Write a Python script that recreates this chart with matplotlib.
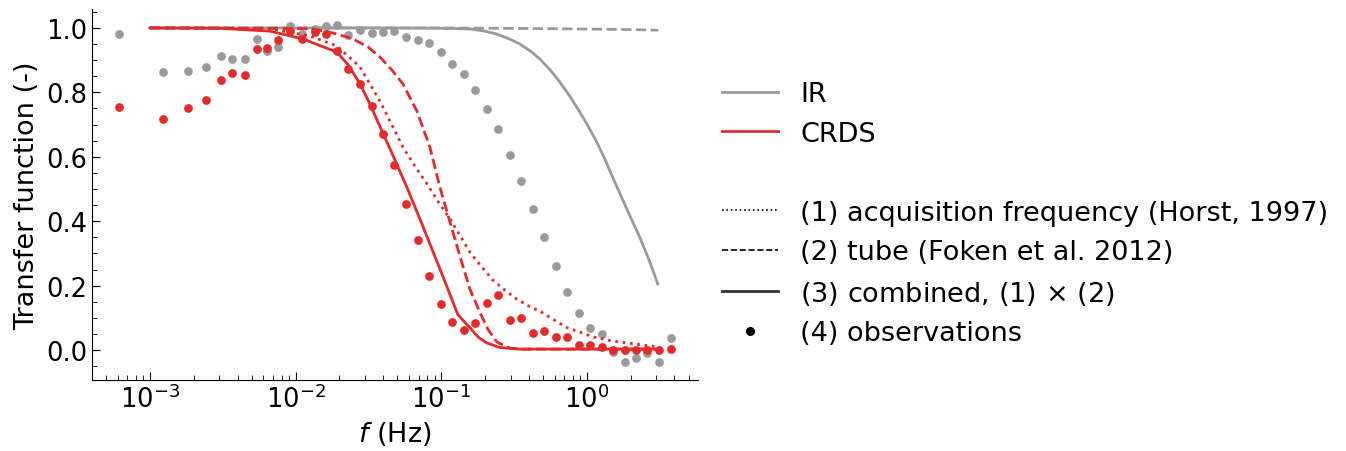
import numpy as np
import matplotlib
matplotlib.use("Agg")
import matplotlib.pyplot as plt
from matplotlib.lines import Line2D

plt.rcParams['font.family'] = ['DejaVu Sans']
plt.rcParams['font.size'] = 19.5

red = '#e32b2b'
grey = '#9a9a9a'

# theoretical curves, values
f_comb = [0.001, 0.003, 0.00667, 0.0112, 0.0192, 0.023, 0.0277, 0.0324, 0.036, 0.0456, 0.0578,
          0.0714, 0.0881, 0.1088, 0.130, 0.157, 0.18, 0.2056, 0.253, 0.347, 3.1]
crds_comb = [1.0, 0.999, 0.99, 0.966, 0.925, 0.885, 0.826, 0.764, 0.717, 0.614, 0.508,
             0.407, 0.304, 0.2, 0.11, 0.07, 0.04, 0.022, 0.008, 0.003, 0.003]

f_acq = [0.001, 0.00316, 0.00667, 0.0126, 0.0192, 0.0277, 0.0379, 0.0457, 0.0546, 0.0661, 0.0798,
         0.0955, 0.1148, 0.1349, 0.1574, 0.1905, 0.2265, 0.2754, 0.3311, 0.3981, 0.4786,
         0.5888, 0.7295, 1.122, 1.507, 3.02]
crds_acq = [1.0, 0.999, 0.997, 0.975, 0.944, 0.879, 0.773, 0.70, 0.63, 0.57, 0.516,
            0.46, 0.407, 0.355, 0.304, 0.257, 0.217, 0.185, 0.158, 0.137, 0.12,
            0.095, 0.07, 0.04, 0.028, 0.01]

f_tube = [0.001, 0.00631, 0.01315, 0.01778, 0.02477, 0.03162, 0.0379, 0.0457, 0.0546, 0.0681,
          0.0836, 0.0979, 0.1148, 0.1343, 0.1574, 0.1841, 0.2089, 0.241, 0.2958, 0.3467, 3.09]
crds_tube = [1.0, 0.999, 0.997, 0.985, 0.966, 0.94, 0.91, 0.87, 0.826, 0.742,
             0.63, 0.506, 0.398, 0.292, 0.189, 0.118, 0.065, 0.025, 0.006, 0.003, 0.003]

f_ir = [0.001, 0.05, 0.1, 0.157, 0.2, 0.241, 0.29, 0.347, 0.41, 0.475, 0.56, 0.653, 0.77,
        0.895, 1.03, 1.17, 1.33, 1.51, 1.73, 1.97, 2.26, 2.58, 2.82, 3.07]
ir_comb = [1.0, 1.0, 0.999, 0.997, 0.99, 0.981, 0.967, 0.95, 0.928, 0.904, 0.87, 0.832, 0.786,
           0.739, 0.692, 0.646, 0.593, 0.535, 0.475, 0.418, 0.36, 0.298, 0.252, 0.205]
f_ir_tube = [0.001, 0.1, 0.5, 2.0, 3.1]
ir_tube = [1.0, 1.0, 0.998, 0.995, 0.993]

# observations
f_obs = [0.00061, 0.00123, 0.00182, 0.00242, 0.00307, 0.00365, 0.00449, 0.00543, 0.00635, 0.00756,
         0.00914, 0.0110, 0.0136, 0.0162, 0.0192, 0.0229, 0.0277, 0.0334, 0.0398, 0.0473,
         0.0572, 0.0691, 0.0822, 0.0995, 0.118, 0.143, 0.170, 0.206, 0.245, 0.296,
         0.352, 0.426, 0.507, 0.613, 0.729, 0.881, 1.05, 1.27, 1.51, 1.82,
         2.17, 2.58, 3.12, 3.77]
crds_obs = [0.755, 0.717, 0.752, 0.776, 0.839, 0.86, 0.854, 0.935, 0.938, 0.963,
            0.99, 0.966, 0.988, 0.981, 0.929, 0.873, 0.826, 0.758, 0.671, 0.575,
            0.453, 0.342, 0.23, 0.143, 0.087, 0.062, 0.084, 0.146, 0.171, 0.093,
            0.099, 0.053, 0.059, 0.04, 0.04, 0.016, 0.016, 0.009, 0.0, 0.0,
            0.0, 0.0, 0.0, 0.003]
ir_obs = [0.981, 0.863, 0.866, 0.879, 0.913, 0.904, 0.904, 0.966, 0.929, 0.941,
          1.006, 0.981, 0.997, 1.006, 1.009, 0.978, 0.994, 0.984, 0.988, 0.991,
          0.972, 0.963, 0.953, 0.925, 0.888, 0.857, 0.807, 0.748, 0.686, 0.606,
          0.525, 0.438, 0.351, 0.261, 0.18, 0.115, 0.068, 0.05, -0.006, -0.037,
          -0.025, -0.009, -0.037, 0.037]

fig = plt.figure(figsize=(13.46, 4.52), dpi=100)
ax = fig.add_axes([0.0684, 0.157, 0.45, 0.821])

ax.plot(f_ir, ir_comb, color=grey, lw=2)
ax.plot(f_ir_tube, ir_tube, color=grey, lw=2, ls='--')
ax.plot(f_obs, ir_obs, 'o', color=grey, ms=6.3, mec='none')

ax.plot(f_acq, crds_acq, color=red, lw=2, ls=':')
ax.plot(f_tube, crds_tube, color=red, lw=2, ls='--')
ax.plot(f_comb, crds_comb, color=red, lw=2)
ax.plot(f_obs, crds_obs, 'o', color=red, ms=6.3, mec='none')

ax.set_xscale('log')
ax.set_xlim(4.0e-4, 5.78)
ax.set_ylim(-0.093, 1.059)
ax.set_yticks([0.0, 0.2, 0.4, 0.6, 0.8, 1.0])
ax.yaxis.set_minor_locator(matplotlib.ticker.MultipleLocator(0.05))
ax.tick_params(which='both', direction='in', labelsize=18.5)
ax.tick_params(which='major', length=6)
ax.tick_params(which='minor', length=3.5)
ax.spines['top'].set_visible(False)
ax.spines['right'].set_visible(False)
ax.set_xlabel('$f$ (Hz)')
ax.set_ylabel('Transfer function (-)')

handles = [
    Line2D([], [], color=grey, lw=2),
    Line2D([], [], color=red, lw=2),
    Line2D([], [], color='none'),
    Line2D([], [], color='k', lw=1.2, ls=':'),
    Line2D([], [], color='k', lw=1.2, ls='--'),
    Line2D([], [], color='#333333', lw=2),
    Line2D([], [], color='k', marker='o', ls='none', ms=5.5),
]
labels = ['IR', 'CRDS', ' ', '(1) acquisition frequency (Horst, 1997)',
          '(2) tube (Foken et al. 2012)', '(3) combined, (1) $\\times$ (2)', '(4) observations']
fig.legend(handles, labels, loc='upper left', bbox_to_anchor=(0.5183, 0.872), frameon=False,
           handlelength=2.07, handletextpad=0.81, labelspacing=0.5)

fig.savefig('out.png', dpi=100)
